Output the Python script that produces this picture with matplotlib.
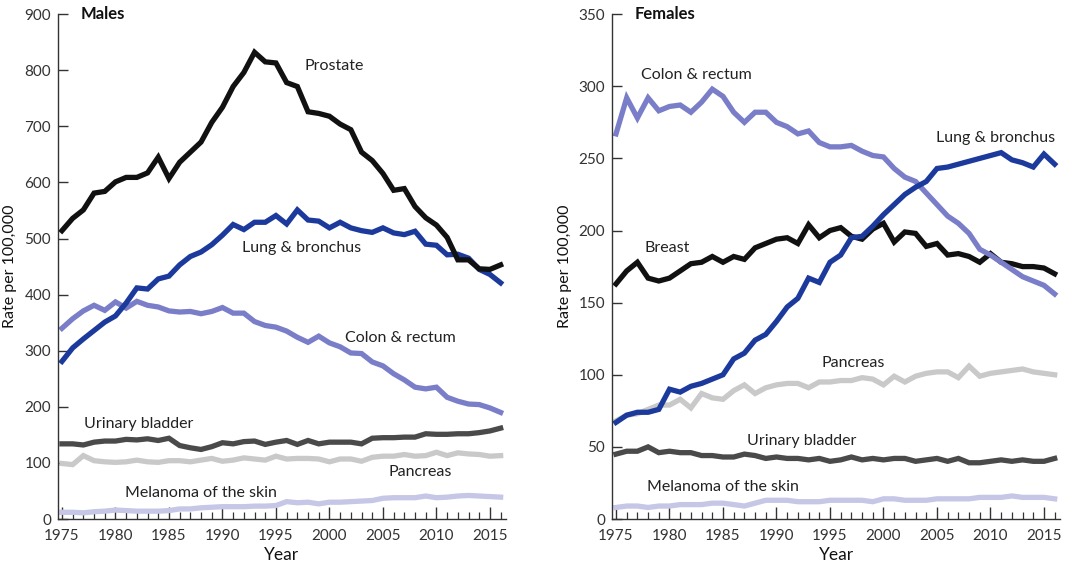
import numpy as np
import matplotlib
matplotlib.use('Agg')
import matplotlib.pyplot as plt
from matplotlib.ticker import MultipleLocator

plt.rcParams['font.family'] = ['Lato', 'DejaVu Sans']

years = np.arange(1975, 2017)

# Males
m_prostate = [514, 536, 551, 581, 584, 601, 609, 609, 617, 645, 607, 636, 654, 672, 707,
              734, 771, 796, 832, 815, 813, 778, 771, 726, 723, 718, 704, 694, 654, 639,
              616, 586, 589, 557, 537, 524, 502, 462, 462, 446, 445, 453]
m_lung = [281, 305, 321, 336, 351, 362, 385, 412, 410, 428, 433, 453, 468, 476, 489,
          506, 525, 516, 529, 529, 541, 526, 551, 533, 531, 519, 529, 519, 514, 511,
          519, 510, 507, 513, 490, 488, 471, 472, 465, 445, 436, 421]
m_colon = [340, 357, 371, 381, 372, 387, 376, 388, 381, 378, 371, 369, 370, 366, 370,
           377, 367, 367, 352, 345, 342, 335, 324, 315, 326, 314, 307, 296, 295, 280,
           273, 259, 248, 235, 232, 235, 217, 210, 205, 204, 198, 190]
m_bladder = [134, 134, 132, 137, 139, 139, 142, 141, 143, 140, 144, 131, 127, 124, 129,
             136, 134, 138, 139, 133, 137, 140, 133, 140, 134, 137, 137, 137, 134, 144,
             145, 145, 146, 146, 152, 151, 151, 152, 152, 154, 157, 162]
m_pancreas = [99, 97, 113, 104, 102, 101, 102, 105, 102, 101, 104, 104, 102, 105, 108,
              103, 105, 109, 107, 105, 112, 107, 108, 108, 107, 102, 107, 107, 103, 110,
              112, 112, 115, 112, 113, 119, 113, 118, 116, 115, 112, 113]
m_melanoma = [12, 12, 11, 13, 14, 16, 15, 14, 14, 14, 15, 18, 18, 20, 21,
              22, 22, 22, 23, 23, 24, 31, 29, 30, 27, 30, 30, 31, 32, 33,
              37, 38, 38, 38, 41, 38, 39, 41, 42, 41, 40, 39]

# Females
f_colon = [267, 292, 278, 292, 283, 286, 287, 282, 289, 298, 293, 282, 275, 282, 282,
           275, 272, 267, 269, 261, 258, 258, 259, 255, 252, 251, 243, 237, 234, 226,
           218, 210, 205, 198, 187, 183, 178, 173, 168, 165, 162, 156]
f_lung = [67, 72, 74, 74, 76, 90, 88, 92, 94, 97, 100, 111, 115, 124, 128,
          137, 147, 153, 167, 164, 178, 183, 195, 196, 203, 211, 218, 225, 230, 234,
          243, 244, 246, 248, 250, 252, 254, 249, 247, 244, 253, 246]
f_breast = [163, 172, 178, 167, 165, 167, 172, 177, 178, 182, 178, 182, 180, 188, 191,
            194, 195, 191, 204, 195, 200, 202, 196, 194, 201, 205, 192, 199, 198, 189,
            191, 183, 184, 182, 178, 184, 178, 177, 175, 175, 174, 170]
f_pancreas = [68, 72, 73, 76, 79, 79, 83, 77, 87, 84, 83, 89, 93, 87, 91,
              93, 94, 94, 91, 95, 95, 96, 96, 98, 97, 93, 99, 95, 99, 101,
              102, 102, 98, 106, 99, 101, 102, 103, 104, 102, 101, 100]
f_bladder = [45, 47, 47, 50, 46, 47, 46, 46, 44, 44, 43, 43, 45, 44, 42,
             43, 42, 42, 41, 42, 40, 41, 43, 41, 42, 41, 42, 42, 40, 41,
             42, 40, 42, 39, 39, 40, 41, 40, 41, 40, 40, 42]
f_melanoma = [8, 9, 9, 8, 9, 9, 10, 10, 10, 11, 11, 10, 9, 11, 13,
              13, 13, 12, 12, 12, 13, 13, 13, 13, 12, 14, 14, 13, 13, 13,
              14, 14, 14, 14, 15, 15, 15, 16, 15, 15, 15, 14]

BLACK = '#111111'
BLUE = '#1b3a9c'
LAV = '#7a7ec8'
DGRAY = '#4a4a4a'
LGRAY = '#c9c9c9'
PALE = '#c6c6e6'

males = [
    (m_melanoma, PALE, 'Melanoma of the skin', 1988, 46),
    (m_pancreas, LGRAY, 'Pancreas', 2008.5, 84),
    (m_bladder, DGRAY, 'Urinary bladder', 1982.2, 169),
    (m_colon, LAV, 'Colon & rectum', 2006.6, 323),
    (m_lung, BLUE, 'Lung & bronchus', 1997.4, 483),
    (m_prostate, BLACK, 'Prostate', 2000.4, 807),
]
females = [
    (f_melanoma, PALE, 'Melanoma of the skin', 1985, 22),
    (f_bladder, DGRAY, 'Urinary bladder', 1992.4, 54),
    (f_pancreas, LGRAY, 'Pancreas', 1997.2, 108),
    (f_breast, BLACK, 'Breast', 1979.8, 188),
    (f_colon, LAV, 'Colon & rectum', 1982.5, 308),
    (f_lung, BLUE, 'Lung & bronchus', 2010.5, 264),
]


def draw(ax, series, ymax, ystep, title):
    for vals, color, name, lx, ly in series:
        ax.plot(years, vals, color=color, lw=3.8, solid_joinstyle='miter')
        ax.text(lx, ly, name, ha='center', va='center', fontsize=11.5, color='#222222')
    ax.set_xlim(1974.63, 2016.5)
    ax.set_ylim(0, ymax)
    ax.yaxis.set_major_locator(MultipleLocator(ystep))
    ax.xaxis.set_major_locator(MultipleLocator(5))
    ax.xaxis.set_minor_locator(MultipleLocator(1))
    for s in ['top', 'right']:
        ax.spines[s].set_visible(False)
    for s in ['left', 'bottom']:
        ax.spines[s].set_color('#333333')
        ax.spines[s].set_linewidth(1.0)
    ax.tick_params(axis='x', which='major', direction='in', length=9, width=1,
                   color='#333333', labelsize=11, labelcolor='#333333', pad=7)
    ax.tick_params(axis='x', which='minor', direction='in', length=5, width=0.9,
                   color='#333333')
    ax.tick_params(axis='y', direction='in', length=7, width=1, color='#333333',
                   labelsize=11, labelcolor='#333333', pad=5)
    ax.set_xlabel('Year', fontsize=12.5, color='#111111', labelpad=3)
    ax.set_ylabel('Rate per 100,000', fontsize=11.5, color='#111111', labelpad=5)
    ax.text(0.05, 1.0, title, transform=ax.transAxes, fontsize=12, fontweight='bold',
            ha='left', va='center', color='#111111')


fig = plt.figure(figsize=(10.8, 5.66), dpi=100)
ax1 = fig.add_axes([0.0537, 0.083, 0.4148, 0.892])
ax2 = fig.add_axes([0.5667, 0.083, 0.4148, 0.892])
draw(ax1, males, 900, 100, 'Males')
draw(ax2, females, 350, 50, 'Females')
fig.savefig('out.png', dpi=100, facecolor='white')
